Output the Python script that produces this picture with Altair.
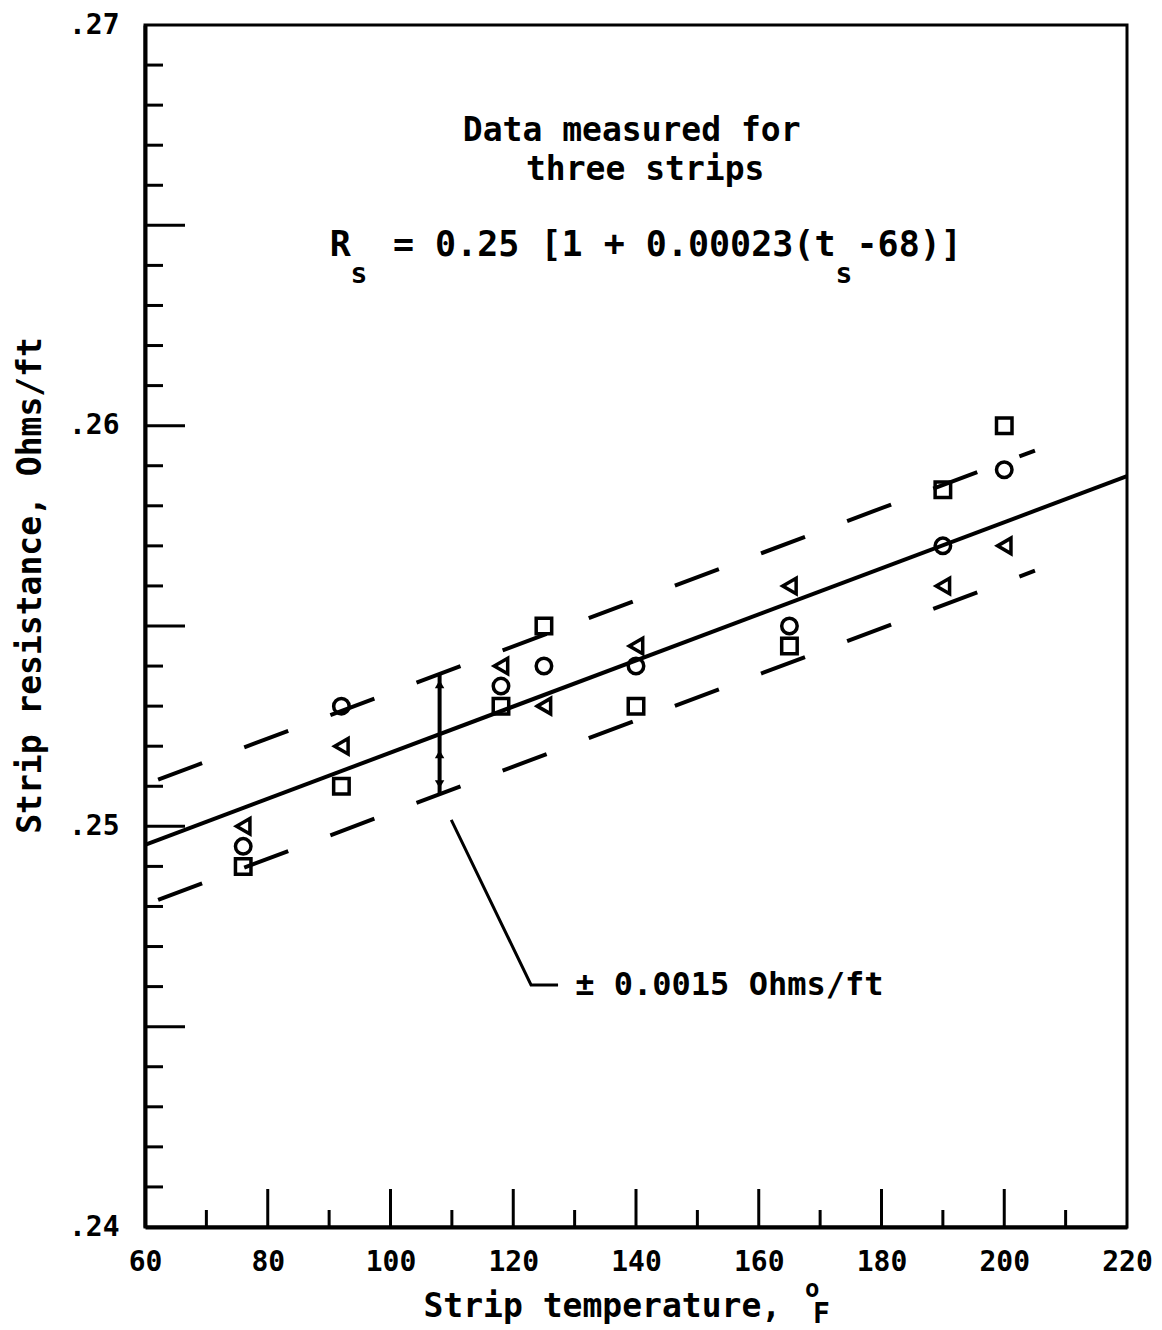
import altair as alt
import pandas as pd

# ---------------- data ----------------
temps = [76, 92, 118, 125, 140, 165, 190, 200]
strip_circle = [0.2495, 0.2530, 0.2535, 0.2540, 0.2540, 0.2550, 0.2570, 0.2589]
strip_square = [0.2490, 0.2510, 0.2530, 0.2550, 0.2530, 0.2545, 0.2584, 0.2600]
strip_triangle = [0.2500, 0.2520, 0.2540, 0.2530, 0.2545, 0.2560, 0.2560, 0.2570]

fit_t = [60, 220]
fit_r = [0.24954, 0.25874]
band_t = [60, 205]
band_upper = [0.25104, 0.25938]
band_lower = [0.24804, 0.25638]

bar_t = [108, 108]
bar_r = [0.2508, 0.2538]
arrow_t = [108, 108, 108]
arrow_r = [0.25355, 0.25105, 0.2518]
arrow_shape = ["triangle-up", "triangle-down", "triangle-up"]

leader_t = [109.9, 122.9, 127.3]
leader_r = [0.25016, 0.24604, 0.24604]

x_major = [80, 100, 120, 140, 160, 180, 200]
x_minor = [70, 90, 110, 130, 150, 170, 190, 210]
y_major = [0.245, 0.250, 0.255, 0.260, 0.265]
y_minor = [0.241, 0.242, 0.243, 0.244, 0.246, 0.247, 0.248, 0.249,
           0.251, 0.252, 0.253, 0.254, 0.256, 0.257, 0.258, 0.259,
           0.261, 0.262, 0.263, 0.264, 0.266, 0.267, 0.268, 0.269]
x_labels = [60, 80, 100, 120, 140, 160, 180, 200, 220]
y_labels = [0.24, 0.25, 0.26, 0.27]

note_text = ["Data measured for", "three strips"]
note_t = [139.3, 141.5]
note_r = [0.26735, 0.26638]

NB = "\u00a0"
formula_main = "R" + NB + " = 0.25 [1 + 0.00023(t" + NB + "-68)]"
formula_t = 90.1
formula_r = 0.26451
sub_t = [93.5, 172.5]
sub_r = [0.26412, 0.26412]

bar_label = "\u00b1 0.0015 Ohms/ft"
bar_label_t = 130.1
bar_label_r = 0.24604

FONT = "DejaVu Sans Mono"
W, H = 982, 1202

# ---------------- scales / axes ----------------
xs = alt.Scale(domain=[60, 220], nice=False, zero=False)
ys = alt.Scale(domain=[0.24, 0.27], nice=False, zero=False)
xaxis = alt.Axis(values=x_labels, title="Strip temperature,", titleAnchor="start",
                 titleX=278, titleY=89, titleBaseline="alphabetic", titleAlign="left",
                 labelPadding=21, labelFlush=False, format="d")
yaxis = alt.Axis(values=y_labels, title="Strip resistance, Ohms/ft",
                 titleX=-115, titleY=560, titleAngle=-90, titleAlign="center",
                 titleBaseline="middle", labelPadding=26, labelFlush=False,
                 labelExpr="replace(format(datum.value, '.2f'), '0.', '.')")


def X(f):
    return alt.X(f, type="quantitative", scale=xs, axis=xaxis)


def Y(f):
    return alt.Y(f, type="quantitative", scale=ys, axis=yaxis)


pts = pd.DataFrame({
    "t": temps * 3,
    "r": strip_circle + strip_square + strip_triangle,
    "strip": ["circle"] * 8 + ["square"] * 8 + ["triangle"] * 8,
})
fit = pd.DataFrame({"t": fit_t, "r": fit_r})
band = pd.DataFrame({"t": band_t * 2, "r": band_upper + band_lower,
                     "side": ["upper", "upper", "lower", "lower"]})
bar = pd.DataFrame({"t": bar_t, "r": bar_r})
arrows = pd.DataFrame({"t": arrow_t, "r": arrow_r, "shape": arrow_shape})
leader = pd.DataFrame({"t": leader_t, "r": leader_r, "o": [0, 1, 2]})
notes = pd.DataFrame({"t": note_t, "r": note_r, "text": note_text})
formula = pd.DataFrame({"t": [formula_t], "r": [formula_r], "text": [formula_main]})
subs = pd.DataFrame({"t": sub_t, "r": sub_r, "text": ["s", "s"]})
blabel = pd.DataFrame({"t": [bar_label_t], "r": [bar_label_r], "text": [bar_label]})

points = alt.Chart(pts).mark_point(filled=False, strokeWidth=3.5, size=240, color="black",
                                   opacity=1).encode(
    x=X("t"), y=Y("r"),
    shape=alt.Shape("strip:N", legend=None,
                    scale=alt.Scale(domain=["circle", "square", "triangle"],
                                    range=["circle", "square", "triangle-left"])),
)
fit_line = alt.Chart(fit).mark_line(color="black", strokeWidth=4).encode(x=X("t"), y=Y("r"))
band_lines = alt.Chart(band).mark_line(color="black", strokeWidth=4, strokeDash=[47, 45],
                                       strokeDashOffset=78).encode(
    x=X("t"), y=Y("r"), detail="side:N")
bar_line = alt.Chart(bar).mark_line(color="black", strokeWidth=4).encode(x=X("t"), y=Y("r"))
arrow_heads = alt.Chart(arrows).mark_point(filled=True, size=90, color="black", opacity=1).encode(
    x=X("t"), y=Y("r"),
    shape=alt.Shape("shape:N", scale=None, legend=None))
leader_line = alt.Chart(leader).mark_line(color="black", strokeWidth=3).encode(
    x=X("t"), y=Y("r"), order="o:Q")

note_marks = alt.Chart(notes).mark_text(font=FONT, fontWeight="bold", fontSize=33,
                                        align="center", baseline="middle").encode(
    x=X("t"), y=Y("r"), text="text:N")
formula_mark = alt.Chart(formula).mark_text(font=FONT, fontWeight="bold", fontSize=35,
                                            align="left", baseline="middle").encode(
    x=X("t"), y=Y("r"), text="text:N")
sub_marks = alt.Chart(subs).mark_text(font=FONT, fontWeight="bold", fontSize=28,
                                      align="left", baseline="top").encode(
    x=X("t"), y=Y("r"), text="text:N")
blabel_mark = alt.Chart(blabel).mark_text(font=FONT, fontWeight="bold", fontSize=32,
                                          align="left", baseline="middle").encode(
    x=X("t"), y=Y("r"), text="text:N")

# inward ticks
xt_major = alt.Chart(pd.DataFrame({"t": x_major})).mark_rule(color="black", strokeWidth=3).encode(
    x=X("t"), y=alt.value(H), y2=alt.value(H - 38))
xt_minor = alt.Chart(pd.DataFrame({"t": x_minor})).mark_rule(color="black", strokeWidth=3).encode(
    x=X("t"), y=alt.value(H), y2=alt.value(H - 17))
yt_major = alt.Chart(pd.DataFrame({"r": y_major})).mark_rule(color="black", strokeWidth=3).encode(
    y=Y("r"), x=alt.value(0), x2=alt.value(40))
yt_minor = alt.Chart(pd.DataFrame({"r": y_minor})).mark_rule(color="black", strokeWidth=3).encode(
    y=Y("r"), x=alt.value(0), x2=alt.value(18))

deg_o = alt.Chart(pd.DataFrame({"s": ["o"]})).mark_text(
    font=FONT, fontWeight="bold", fontSize=24, align="left", baseline="alphabetic").encode(
    x=alt.value(660), y=alt.value(1272), text="s:N")
deg_f = alt.Chart(pd.DataFrame({"s": ["F"]})).mark_text(
    font=FONT, fontWeight="bold", fontSize=28, align="left", baseline="alphabetic").encode(
    x=alt.value(668), y=alt.value(1298), text="s:N")

chart = alt.layer(
    xt_major, xt_minor, yt_major, yt_minor,
    band_lines, fit_line, bar_line, arrow_heads, leader_line, points,
    note_marks, formula_mark, sub_marks, blabel_mark, deg_o, deg_f,
).properties(
    width=W, height=H,
    background="white",
    autosize=alt.AutoSizeParams(type="none"),
    padding={"left": 137, "top": 17, "right": 27, "bottom": 111},
).configure_view(
    stroke="black", strokeWidth=3,
).configure_axis(
    domainColor="black", domainWidth=4, ticks=False, grid=False,
    labelFont=FONT, labelFontWeight="bold", labelFontSize=28, labelColor="black",
    titleFont=FONT, titleFontWeight="bold", titleFontSize=33, titleColor="black",
)

chart.save("out.html", embed_options={"renderer": "svg", "actions": False})
